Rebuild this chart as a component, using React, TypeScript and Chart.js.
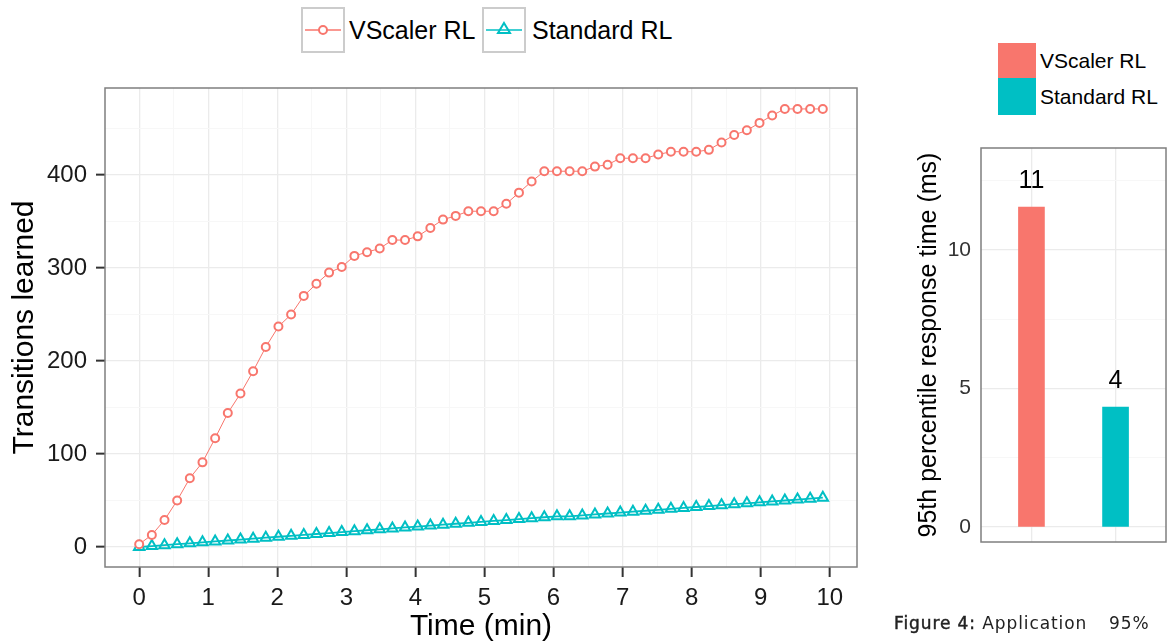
import React, { useEffect, useRef } from 'react';
import { Chart, registerables } from 'chart.js';

Chart.register(...registerables);

// ---------- data ----------
const timeSeconds = [
  0, 11, 22, 33, 44, 55, 66, 77, 88, 99, 110, 121, 132, 143, 154, 165, 176, 187, 198, 209,
  220, 231, 242, 253, 264, 275, 286, 297, 308, 319, 330, 341, 352, 363, 374, 385, 396, 407, 418, 429,
  440, 451, 462, 473, 484, 495, 506, 517, 528, 539, 550, 561, 572, 583, 594,
];
const vscalerTransitions = [
  3, 13, 29, 50, 74, 91, 117, 144, 165, 189, 215, 237, 250, 270, 283, 295, 301, 313, 317, 321,
  330, 330, 334, 343, 352, 356, 361, 361, 361, 369, 381, 393, 404, 404, 404, 404, 409, 411, 418, 418,
  418, 422, 425, 425, 425, 427, 435, 443, 448, 456, 464, 471, 471, 471, 471,
];
const standardTransitions = [
  0, 1, 2, 3, 4, 5, 6, 7, 8, 9, 10, 11, 12, 13, 14, 15, 16, 17, 18, 19,
  20, 21, 22, 23, 24, 25, 26, 27, 28, 29, 30, 31, 32, 33, 33, 34, 35, 36, 37, 38,
  39, 40, 41, 42, 43, 44, 45, 46, 47, 48, 49, 50, 51, 52, 53,
];
const seriesNames = ['VScaler RL', 'Standard RL'];
const xTickValues = [0, 1, 2, 3, 4, 5, 6, 7, 8, 9, 10];
const yTickValues = [0, 100, 200, 300, 400];

const barCategories = ['VScaler RL', 'Standard RL'];
const barValues = [11.55, 4.33];
const barLabels = ['11', '4'];
const barTickValues = [0, 5, 10];

// ---------- styles ----------
const RED = '#F8766D';
const CYAN = '#00BFC4';
const FONT = '"Liberation Sans", Arial, Helvetica, sans-serif';
const MAJOR_GRID = '#EBEBEB';
const MINOR_GRID = '#F7F7F7';

const withMinor = (major: number[]) => {
  const out: number[] = [];
  for (let i = 0; i < major.length; i++) {
    out.push(major[i]);
    if (i < major.length - 1) out.push((major[i] + major[i + 1]) / 2);
  }
  return out;
};

const framePlugin = {
  id: 'panelFrame',
  afterDraw(chart: any) {
    const { ctx, chartArea: a } = chart;
    ctx.save();
    ctx.strokeStyle = '#7F7F7F';
    ctx.lineWidth = 1.5;
    ctx.strokeRect(a.left, a.top, a.right - a.left, a.bottom - a.top);
    ctx.restore();
  },
};

const barLabelPlugin = {
  id: 'barLabels',
  afterDatasetsDraw(chart: any) {
    const { ctx } = chart;
    const meta = chart.getDatasetMeta(0);
    ctx.save();
    ctx.font = `25px ${FONT}`;
    ctx.fillStyle = '#000';
    ctx.textAlign = 'center';
    ctx.textBaseline = 'middle';
    meta.data.forEach((bar: any, i: number) => {
      ctx.fillText(barLabels[i], bar.x, bar.y - 26);
    });
    ctx.restore();
  },
};

function LineChart() {
  const ref = useRef<HTMLCanvasElement>(null);
  useEffect(() => {
    const xGrid = withMinor(xTickValues);
    const yGrid = withMinor([...yTickValues, 500]).filter((v) => v < 490);
    const isMajorX = (v: number) => xTickValues.includes(v);
    const isMajorY = (v: number) => yTickValues.includes(v);
    const chart = new Chart(ref.current!, {
      type: 'line',
      data: {
        datasets: [
          {
            label: seriesNames[0],
            data: timeSeconds.map((s, i) => ({ x: s / 60, y: vscalerTransitions[i] })),
            borderColor: RED,
            borderWidth: 1,
            pointStyle: 'circle',
            pointRadius: 4,
            pointBorderWidth: 2,
            pointBorderColor: RED,
            pointBackgroundColor: '#FFFFFF',
            tension: 0,
          },
          {
            label: seriesNames[1],
            data: timeSeconds.map((s, i) => ({ x: s / 60, y: standardTransitions[i] })),
            borderColor: CYAN,
            borderWidth: 1.8,
            pointStyle: 'triangle',
            pointRadius: 6,
            pointBorderWidth: 2,
            pointBorderColor: CYAN,
            pointBackgroundColor: 'rgba(255,255,255,0)',
            tension: 0,
          },
        ],
      },
      options: {
        animation: false,
        responsive: false,
        maintainAspectRatio: false,
        layout: { padding: { top: 28, right: 13, left: 0, bottom: 0 } },
        plugins: { legend: { display: false }, tooltip: { enabled: false } },
        scales: {
          x: {
            type: 'linear',
            min: -0.495,
            max: 10.395,
            afterBuildTicks: (s: any) => {
              s.ticks = xGrid.map((v) => ({ value: v }));
            },
            afterFit: (s: any) => {
              s.height = 78;
            },
            border: { display: false },
            grid: {
              color: (c: any) => (c.tick && isMajorX(c.tick.value) ? MAJOR_GRID : MINOR_GRID),
              lineWidth: (c: any) => (c.tick && isMajorX(c.tick.value) ? 1.3 : 1),
              tickColor: (c: any) => (c.tick && isMajorX(c.tick.value) ? '#333333' : 'rgba(0,0,0,0)'),
              tickLength: 10,
              tickWidth: 2,
            },
            ticks: {
              autoSkip: false,
              maxRotation: 0,
              padding: 7,
              color: '#1A1A1A',
              font: { family: FONT, size: 24 },
              callback: (v: any) => (isMajorX(Number(v)) ? String(v) : ''),
            },
            title: {
              display: true,
              text: 'Time (min)',
              color: '#000',
              font: { family: FONT, size: 30 },
              padding: { top: 0, bottom: 0 },
            },
          },
          y: {
            type: 'linear',
            min: -21.5,
            max: 493.5,
            afterBuildTicks: (s: any) => {
              s.ticks = yGrid.map((v) => ({ value: v }));
            },
            afterFit: (s: any) => {
              s.width = 105;
              s.paddingTop = 0;
              s.paddingBottom = 0;
            },
            border: { display: false },
            grid: {
              color: (c: any) => (c.tick && isMajorY(c.tick.value) ? MAJOR_GRID : MINOR_GRID),
              lineWidth: (c: any) => (c.tick && isMajorY(c.tick.value) ? 1.3 : 1),
              tickColor: (c: any) => (c.tick && isMajorY(c.tick.value) ? '#333333' : 'rgba(0,0,0,0)'),
              tickLength: 9,
              tickWidth: 2,
            },
            ticks: {
              autoSkip: false,
              padding: 9,
              color: '#1A1A1A',
              font: { family: FONT, size: 24 },
              callback: (v: any) => (isMajorY(Number(v)) ? String(v) : ''),
            },
            title: {
              display: true,
              text: 'Transitions learned',
              color: '#000',
              font: { family: FONT, size: 30 },
              padding: { top: 7, bottom: 0 },
            },
          },
        },
      },
      plugins: [framePlugin],
    });
    return () => chart.destroy();
  }, []);
  return (
    <canvas
      ref={ref}
      width={870}
      height={585}
      style={{ position: 'absolute', left: 0, top: 60, width: 870, height: 585 }}
    />
  );
}

function BarChart() {
  const ref = useRef<HTMLCanvasElement>(null);
  useEffect(() => {
    const yGrid = withMinor([...barTickValues, 15]).filter((v) => v < 13.6);
    const isMajorY = (v: number) => barTickValues.includes(v);
    const chart = new Chart(ref.current!, {
      type: 'bar',
      data: {
        datasets: [
          {
            label: '95th percentile',
            data: barCategories.map((c, i) => ({ x: i + 1, y: barValues[i] })),
            backgroundColor: [RED, CYAN],
            borderWidth: 0,
            barThickness: 26,
          },
        ],
      },
      options: {
        animation: false,
        responsive: false,
        maintainAspectRatio: false,
        layout: { padding: { top: 18, right: 1, left: 0, bottom: 0 } },
        plugins: { legend: { display: false }, tooltip: { enabled: false } },
        scales: {
          x: {
            type: 'linear',
            min: 0.4,
            max: 2.6,
            offset: false,
            afterBuildTicks: (s: any) => {
              s.ticks = barCategories.map((c, i) => ({ value: i + 1 }));
            },
            afterFit: (s: any) => {
              s.height = 101;
              s.paddingLeft = 0;
              s.paddingRight = 0;
            },
            border: { display: false },
            grid: { color: MAJOR_GRID, lineWidth: 1.3, drawTicks: false, offset: false },
            ticks: { display: false },
          },
          y: {
            type: 'linear',
            min: -0.54,
            max: 13.68,
            afterBuildTicks: (s: any) => {
              s.ticks = yGrid.map((v) => ({ value: v }));
            },
            afterFit: (s: any) => {
              s.width = 101;
              s.paddingTop = 0;
              s.paddingBottom = 0;
            },
            border: { display: false },
            grid: {
              color: (c: any) => (c.tick && isMajorY(c.tick.value) ? MAJOR_GRID : MINOR_GRID),
              lineWidth: (c: any) => (c.tick && isMajorY(c.tick.value) ? 1.3 : 1),
              drawTicks: false,
            },
            ticks: {
              autoSkip: false,
              padding: 10,
              color: '#333333',
              font: { family: FONT, size: 21 },
              callback: (v: any) => (isMajorY(Number(v)) ? String(v) : ''),
            },
            title: {
              display: true,
              text: '95th percentile response time (ms)',
              color: '#000',
              font: { family: FONT, size: 25 },
              padding: { top: 34, bottom: 0 },
            },
          },
        },
      },
      plugins: [framePlugin, barLabelPlugin],
    });
    return () => chart.destroy();
  }, []);
  return (
    <canvas
      ref={ref}
      width={287}
      height={513}
      style={{ position: 'absolute', left: 880, top: 130, width: 287, height: 513 }}
    />
  );
}

function LegendKey({ left, color, shape }: { left: number; color: string; shape: 'circle' | 'triangle' }) {
  return (
    <svg
      width={44}
      height={46}
      style={{ position: 'absolute', left, top: 7 }}
    >
      <rect x={1} y={1} width={42} height={44} fill="#fff" stroke="#CCCCCC" strokeWidth={2} />
      <line x1={4} y1={23} x2={40} y2={23} stroke={color} strokeWidth={1.3} />
      {shape === 'circle' ? (
        <circle cx={22} cy={23} r={4} fill="#fff" stroke={color} strokeWidth={2} />
      ) : (
        <polygon points="22,16 28,26 16,26" fill="none" stroke={color} strokeWidth={2} />
      )}
    </svg>
  );
}

export default function App() {
  const legendText: React.CSSProperties = {
    position: 'absolute',
    fontFamily: FONT,
    fontSize: 25,
    color: '#000',
    lineHeight: '30px',
    whiteSpace: 'nowrap',
  };
  const barLegendText: React.CSSProperties = {
    position: 'absolute',
    fontFamily: FONT,
    fontSize: 21,
    color: '#000',
    lineHeight: '24px',
    whiteSpace: 'nowrap',
    left: 1040,
  };
  const captionText: React.CSSProperties = {
    position: 'absolute',
    top: 613,
    fontFamily: '"DejaVu Sans", sans-serif',
    fontSize: 17,
    letterSpacing: 0.9,
    color: '#222',
    whiteSpace: 'nowrap',
    lineHeight: '20px',
  };
  return (
    <div
      style={{
        position: 'absolute',
        left: 0,
        top: 0,
        width: 1167,
        height: 643,
        background: '#fff',
        overflow: 'hidden',
      }}
    >
      <LineChart />
      <BarChart />

      <LegendKey left={301} color={RED} shape="circle" />
      <div style={{ ...legendText, left: 349, top: 15 }}>{seriesNames[0]}</div>
      <LegendKey left={482} color={CYAN} shape="triangle" />
      <div style={{ ...legendText, left: 532, top: 15 }}>{seriesNames[1]}</div>

      <div style={{ position: 'absolute', left: 998, top: 43, width: 38, height: 35, background: RED }} />
      <div style={{ position: 'absolute', left: 998, top: 78, width: 38, height: 37, background: CYAN }} />
      <div style={{ ...barLegendText, top: 49 }}>{barCategories[0]}</div>
      <div style={{ ...barLegendText, top: 85 }}>{barCategories[1]}</div>

      <div style={{ ...captionText, left: 894 }}>
        <span style={{ WebkitTextStroke: '0.45px #222' }}>Figure 4:</span> Application
      </div>
      <div style={{ ...captionText, left: 1109 }}>95%</div>
    </div>
  );
}
